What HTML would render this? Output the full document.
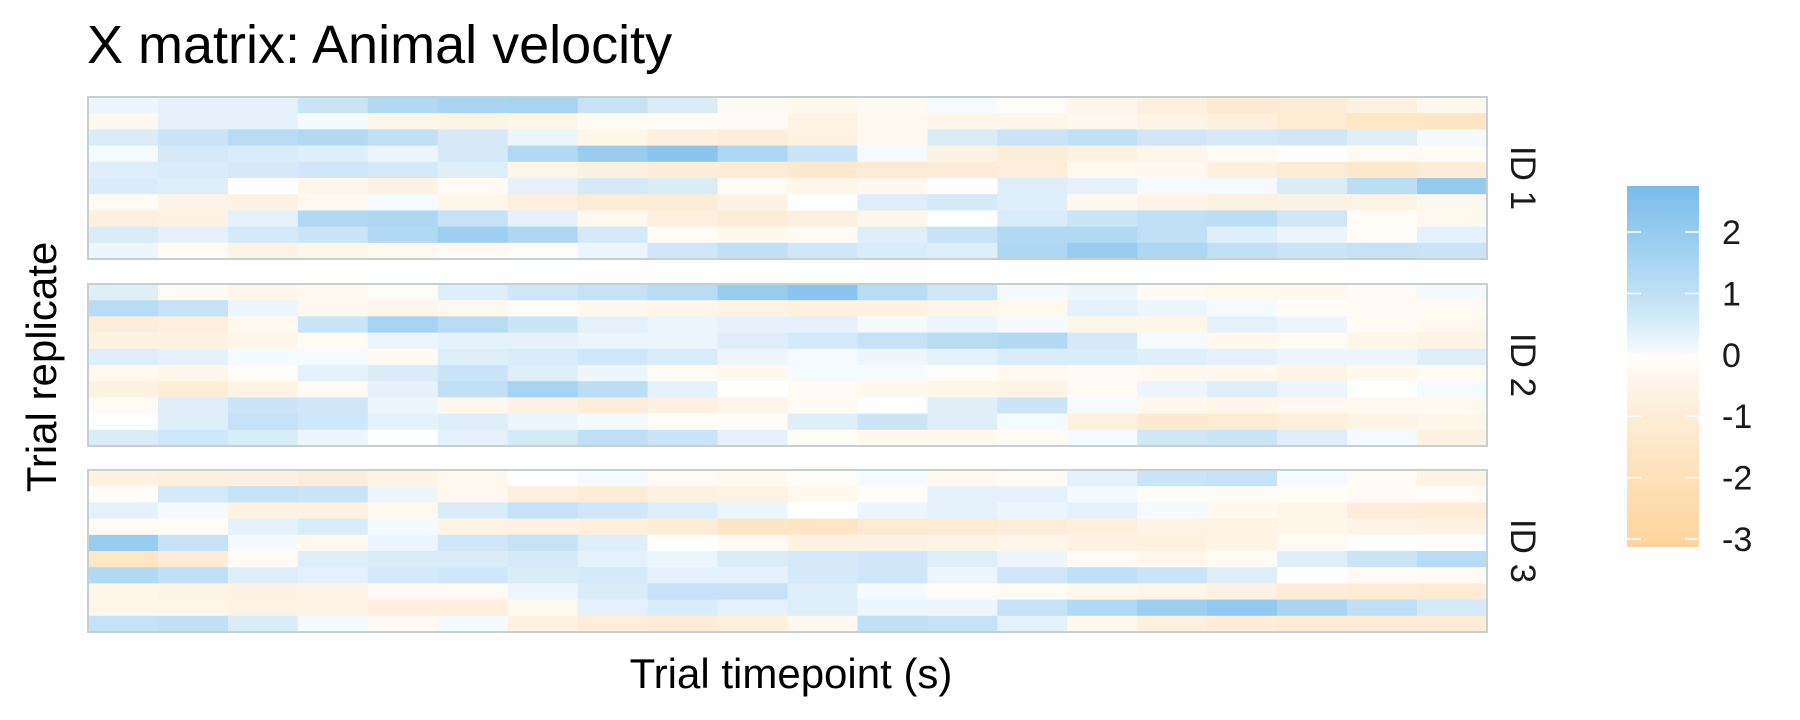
<!DOCTYPE html>
<html><head><meta charset="utf-8">
<style>
html,body{margin:0;padding:0;background:#fff;}
svg{display:block;font-family:"Liberation Sans",Arial,sans-serif;}
</style></head>
<body>
<svg id="chart" width="1800" height="720" viewBox="0 0 1800 720">
  <text x="87" y="63" font-size="54" fill="#000">X matrix: Animal velocity</text>
  <text x="791" y="688" font-size="42" text-anchor="middle" fill="#000">Trial timepoint (s)</text>
  <text x="0" y="0" font-size="42" text-anchor="middle" fill="#000" transform="translate(56,367) rotate(-90)">Trial replicate</text>
  <g id="panels"></g>
  <g id="legend"></g>
</svg>
<script>
const panelLabels = ["ID 1", "ID 2", "ID 3"];
const timepoints = Array.from({length: 20}, (_, i) => i + 1);
const legendTicks = [2, 1, 0, -1, -2, -3];
const id1Values = [
 [0.2,0.3,0.3,0.8,1.3,1.5,1.6,0.9,0.5,-0.2,-0.3,-0.2,0.1,-0.1,-0.4,-0.8,-1.2,-1.0,-0.7,-0.3],
 [-0.3,0.3,0.3,0.1,-0.4,-0.5,-0.4,-0.2,-0.1,-0.2,-0.5,-0.3,-0.4,-0.4,-0.3,-0.5,-0.8,-1.2,-1.5,-1.6],
 [0.5,0.8,1.2,1.3,1.0,0.6,0.2,-0.4,-0.8,-0.9,-0.6,-0.3,0.5,0.8,1.0,0.7,0.6,0.7,0.4,0.1],
 [0.1,0.6,0.5,0.4,0.2,0.6,1.3,1.9,2.3,1.4,0.8,0.1,-0.6,-0.9,-0.6,-0.4,-0.2,0.0,-0.2,-0.1],
 [0.4,0.5,0.6,0.7,0.6,0.4,-0.4,-0.7,-0.9,-1.0,-1.2,-1.1,-1.0,-0.9,-0.3,-0.3,-0.8,-1.1,-1.3,-1.0],
 [0.5,0.4,0.0,-0.4,-0.6,-0.2,0.3,0.6,0.5,-0.2,-0.4,-0.3,0.0,0.4,0.3,0.1,0.1,0.5,1.1,2.0],
 [-0.2,-0.5,-0.6,-0.3,0.1,-0.4,-0.8,-1.1,-1.0,-0.6,0.0,0.4,0.6,0.4,-0.3,-0.5,-0.7,-0.6,-0.5,-0.3],
 [-0.8,-0.6,0.3,1.3,1.4,0.9,0.3,-0.3,-0.8,-1.0,-0.8,-0.4,0.0,0.5,0.8,1.0,1.1,0.7,-0.1,-0.3],
 [0.5,0.3,0.6,0.8,1.3,1.8,1.4,0.6,-0.1,-0.3,-0.2,0.4,0.9,1.3,1.3,1.0,0.4,0.2,-0.1,0.3],
 [0.2,-0.2,-0.5,-0.4,-0.3,-0.2,-0.1,0.2,0.7,1.0,0.7,0.5,0.4,1.4,1.9,1.4,1.0,0.8,0.9,0.8]
];
const id2Values = [
 [0.4,-0.2,-0.4,-0.3,-0.1,0.4,0.7,0.9,1.2,1.9,2.3,1.2,0.7,0.1,0.2,-0.2,-0.3,-0.3,-0.2,0.1],
 [1.2,0.9,0.2,-0.3,-0.4,-0.3,-0.1,-0.3,-0.4,-0.5,-0.7,-0.6,-0.4,-0.3,0.3,0.2,0.1,-0.1,-0.2,-0.2],
 [-0.9,-0.8,-0.3,0.8,1.6,1.2,0.8,0.3,0.2,0.3,0.3,0.1,0.2,0.1,-0.4,-0.4,0.3,0.2,-0.2,-0.3],
 [-0.6,-0.6,-0.4,-0.2,0.2,0.3,0.3,0.2,0.2,0.4,0.6,0.9,1.2,1.3,0.6,0.1,-0.3,-0.2,-0.4,-0.5],
 [0.4,0.3,0.1,0.1,-0.2,0.4,0.5,0.7,0.5,0.2,0.1,0.2,0.3,0.5,0.5,0.4,0.3,0.2,0.2,0.4],
 [-0.3,-0.4,-0.1,0.3,0.5,0.8,0.4,0.2,-0.2,-0.3,0.1,0.1,-0.1,-0.3,-0.2,-0.3,-0.3,-0.5,-0.3,-0.2],
 [-0.6,-0.9,-0.5,-0.2,0.3,1.0,1.6,1.1,0.3,0.0,-0.2,-0.3,-0.4,-0.5,-0.2,0.2,0.4,0.2,0.0,0.1],
 [-0.2,0.4,0.8,0.7,0.2,-0.3,-0.6,-0.9,-0.7,-0.4,-0.2,0.0,0.4,0.8,0.1,-0.3,-0.4,-0.3,-0.3,-0.3],
 [0.0,0.4,0.9,0.7,0.3,0.4,0.2,0.1,-0.1,-0.1,0.4,0.8,0.4,0.1,-0.7,-1.2,-1.1,-0.8,-0.5,-0.4],
 [0.5,0.7,0.5,0.2,0.0,0.3,0.6,1.0,0.8,0.3,-0.1,-0.3,-0.3,-0.2,0.1,0.7,0.8,0.4,0.1,-0.6]
];
const id3Values = [
 [-0.6,-0.8,-0.7,-0.9,-0.5,-0.3,0.0,0.1,-0.2,-0.3,-0.1,0.1,-0.3,-0.2,0.3,0.8,0.9,0.1,-0.2,-0.5],
 [-0.1,0.6,0.9,0.8,0.2,-0.3,-0.8,-1.0,-0.7,-0.5,-0.3,-0.1,0.3,0.3,0.1,-0.1,-0.1,-0.1,-0.2,-0.1],
 [0.3,0.1,-0.6,-0.6,-0.3,0.5,0.9,0.7,0.4,0.2,0.0,0.2,0.3,0.2,0.3,0.1,-0.3,-0.4,-0.9,-1.0],
 [-0.2,-0.1,0.3,0.5,0.1,-0.5,-0.6,-0.8,-1.0,-1.5,-1.6,-1.2,-1.1,-0.9,-0.8,-0.5,-0.5,-0.4,-0.5,-0.6],
 [1.9,0.9,0.1,-0.3,0.2,0.7,0.9,0.4,0.0,-0.2,-0.6,-0.6,-0.5,-0.4,-0.6,-0.7,-0.5,-0.2,0.0,0.0],
 [-1.5,-1.0,-0.2,0.4,0.5,0.5,0.6,0.3,0.2,0.5,0.6,0.7,0.4,0.2,-0.1,-0.3,-0.2,0.4,0.8,1.2],
 [1.3,1.0,0.4,0.3,0.6,0.7,0.5,0.6,0.3,0.3,0.6,0.7,0.2,0.7,1.0,0.8,0.4,0.0,-0.2,-0.2],
 [-0.4,-0.5,-0.6,-0.5,-0.2,-0.2,0.2,0.5,0.9,0.9,0.4,0.1,-0.1,-0.2,-0.3,-0.4,-0.6,-0.9,-1.0,-1.1],
 [-0.4,-0.4,-0.5,-0.5,-0.8,-0.8,-0.3,0.3,0.5,0.3,0.4,0.2,0.2,0.9,1.3,1.8,2.1,1.5,1.0,0.6],
 [0.9,1.0,0.5,0.1,-0.2,0.1,-0.6,-0.9,-1.0,-0.8,-0.3,1.0,0.9,0.3,-0.3,-0.7,-0.9,-1.0,-1.0,-1.0]
];
const allPanels = [id1Values, id2Values, id3Values];

const NS = "http://www.w3.org/2000/svg";
const plotX0 = 88, plotX1 = 1487;
const panelTops = [97, 284, 470], panelH = 162;
const vMax = 2.75, vMin = -3.13;
const hi = [120,189,235], lo = [253,212,158];
function color(v){
  let t, c;
  if (v >= 0){ t = Math.min(v / vMax, 1); c = hi; }
  else { t = Math.min(v / vMin, 1); c = lo; }
  t = Math.pow(t, 0.75);
  const r = Math.round(255 + (c[0]-255)*t), g = Math.round(255 + (c[1]-255)*t), b = Math.round(255 + (c[2]-255)*t);
  return `rgb(${r},${g},${b})`;
}
function xScale(i){ return plotX0 + (plotX1 - plotX0) * i / timepoints.length; }
function yScale(p, r, n){ return panelTops[p] + panelH * r / n; }
const gp = document.getElementById('panels');
allPanels.forEach((rows, p) => {
  const g = document.createElementNS(NS, 'g');
  
  
  rows.forEach((row, r) => {
    row.forEach((v, c) => {
      const rect = document.createElementNS(NS, 'rect');
      const x0 = xScale(c), x1 = xScale(c + 1), y0 = yScale(p, r, rows.length), y1 = yScale(p, r + 1, rows.length);
      rect.setAttribute('x', x0); rect.setAttribute('y', y0);
      rect.setAttribute('width', x1 - x0 + 0.5); rect.setAttribute('height', y1 - y0 + 0.5);
      rect.setAttribute('fill', color(v));
      
      
      g.appendChild(rect);
    });
  });
  const border = document.createElementNS(NS, 'rect');
  border.setAttribute('x', plotX0); border.setAttribute('y', panelTops[p]);
  border.setAttribute('width', plotX1 - plotX0); border.setAttribute('height', panelH);
  border.setAttribute('fill', 'none'); border.setAttribute('stroke', '#c5d1d1'); border.setAttribute('stroke-width', '2');
  
  
  g.appendChild(border);
  const lab = document.createElementNS(NS, 'text');
  const cy = panelTops[p] + panelH / 2;
  lab.setAttribute('transform', `translate(1511,${cy}) rotate(90)`);
  lab.setAttribute('text-anchor', 'middle');
  lab.setAttribute('font-size', '35');
  lab.setAttribute('fill', '#1a1a1a');
  lab.textContent = panelLabels[p];
  
  
  g.appendChild(lab);
  gp.appendChild(g);
});
// legend
const lg = document.getElementById('legend');
const legX = 1627, legW = 72, legTop = 186, legBot = 547;
function legY(v){ return legTop + (vMax - v) / (vMax - vMin) * (legBot - legTop); }
const defs = document.createElementNS(NS, 'defs');
const grad = document.createElementNS(NS, 'linearGradient');
grad.setAttribute('id', 'lgrad'); grad.setAttribute('x1', '0'); grad.setAttribute('y1', '0'); grad.setAttribute('x2', '0'); grad.setAttribute('y2', '1');
for (let k = 0; k <= 40; k++){
  const v = vMax + (vMin - vMax) * k / 40;
  const st = document.createElementNS(NS, 'stop');
  st.setAttribute('offset', k / 40);
  st.setAttribute('stop-color', color(v));
  grad.appendChild(st);
}
defs.appendChild(grad); lg.appendChild(defs);
const bar = document.createElementNS(NS, 'rect');
bar.setAttribute('x', legX); bar.setAttribute('y', legTop); bar.setAttribute('width', legW); bar.setAttribute('height', legBot - legTop);
bar.setAttribute('fill', 'url(#lgrad)');


lg.appendChild(bar);
legendTicks.forEach(t => {
  const y = legY(t);
  [[legX, legX + 14], [legX + legW - 14, legX + legW]].forEach(([a, b]) => {
    const ln = document.createElementNS(NS, 'line');
    ln.setAttribute('x1', a); ln.setAttribute('x2', b); ln.setAttribute('y1', y); ln.setAttribute('y2', y);
    ln.setAttribute('stroke', '#fff'); ln.setAttribute('stroke-width', '1.5');
    
    
    lg.appendChild(ln);
  });
  const tx = document.createElementNS(NS, 'text');
  tx.setAttribute('x', 1722); tx.setAttribute('y', y + 12);
  tx.setAttribute('font-size', '34'); tx.setAttribute('fill', '#1a1a1a');
  tx.textContent = String(t);
  
  
  lg.appendChild(tx);
});
</script>
</body></html>
